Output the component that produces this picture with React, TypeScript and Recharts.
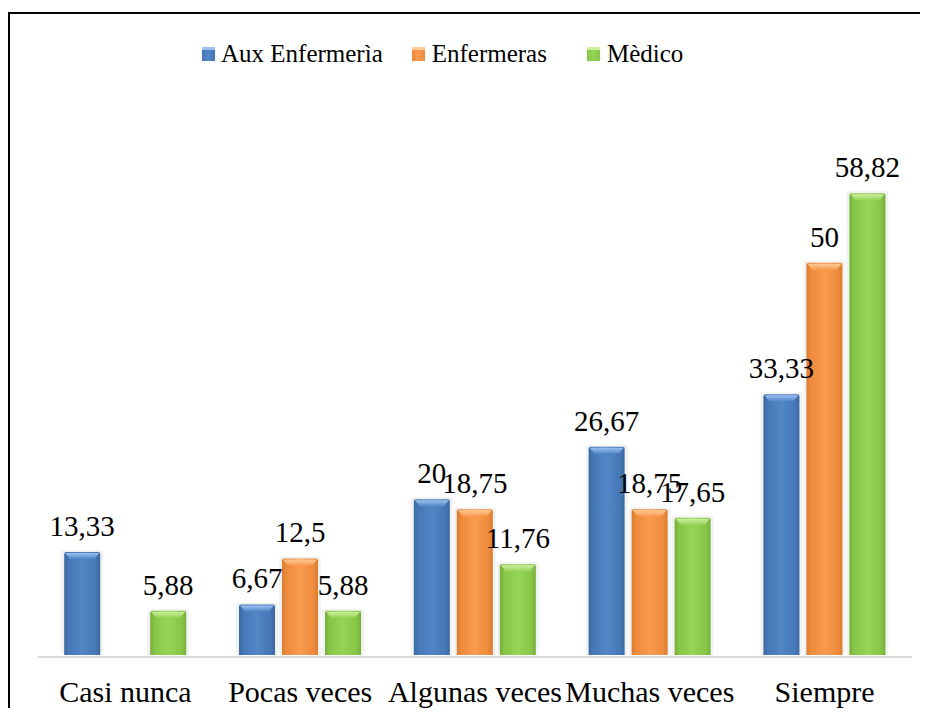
import React from 'react';
import { BarChart, Bar, XAxis, YAxis, Legend, LabelList } from 'recharts';

const categories = ['Casi nunca', 'Pocas veces', 'Algunas veces', 'Muchas veces', 'Siempre'];
const auxEnfermeria = [13.33, 6.67, 20, 26.67, 33.33];
const enfermeras = [null, 12.5, 18.75, 18.75, 50];
const medico = [5.88, 5.88, 11.76, 17.65, 58.82];
const seriesNames = ['Aux Enfermerìa', 'Enfermeras', 'Mèdico'];

const data = categories.map((c, i) => ({
  name: c,
  aux: auxEnfermeria[i],
  enf: enfermeras[i],
  med: medico[i],
}));

const FONT = '"Times New Roman", "Liberation Serif", Tinos, serif';

const palette = [
  { id: 'blue', base: '#5286C6', light: '#9CC2F0', dark: '#4677B6', edge: '#3B67A0' },
  { id: 'orange', base: '#F99B4E', light: '#FDCB98', dark: '#EE8A3C', edge: '#DA7B30' },
  { id: 'green', base: '#96D455', light: '#CDEFA0', dark: '#86C546', edge: '#74AE38' },
];

const makeShape = (p: typeof palette[number]) => (props: any) => {
  const { x, y, width, height } = props;
  if (height == null || height <= 0 || width <= 0) return null;
  const b = Math.min(7, height / 2);
  const r = 2;
  const h = height - 2;
  const d = `M${x},${y + h} L${x},${y + r} Q${x},${y} ${x + r},${y} L${x + width - r},${y} Q${x + width},${y} ${x + width},${y + r} L${x + width},${y + h} Z`;
  return (
    <g>
      <rect x={x - 3} y={y - 2} width={width + 6} height={h + 2} fill="#000" opacity={0.05} rx={3} />
      <path d={d} fill={`url(#grad-${p.id})`} />
      <polygon
        points={`${x + 1},${y + 1} ${x + width - 1},${y + 1} ${x + width - 6},${y + b} ${x + 6},${y + b}`}
        fill={`url(#top-${p.id})`}
      />
    </g>
  );
};

const fmt = (v: any) => (v == null ? '' : String(v).replace('.', ','));

const LegendContent = () => (
  <div style={{ display: 'flex', alignItems: 'center', fontFamily: FONT, fontSize: 25, lineHeight: '28px', color: '#000', whiteSpace: 'nowrap' }}>
    {seriesNames.map((n, i) => (
      <div key={n} style={{ display: 'flex', alignItems: 'center', marginRight: i === 0 ? 29 : 40 }}>
        <div
          style={{
            width: 13,
            height: 14,
            marginRight: i === 0 ? 6 : 7,
            marginTop: 1,
            background: `linear-gradient(to right, ${palette[i].dark}, ${palette[i].base} 50%, ${palette[i].dark})`,
            boxShadow: `inset 0 3px 0 ${palette[i].light}`,
          }}
        />
        <span>{n}</span>
      </div>
    ))}
  </div>
);

export default function App() {
  return (
    <div style={{ position: 'relative', width: 920, height: 700, overflow: 'hidden', background: '#fff' }}>
      <div style={{ position: 'absolute', left: 0, top: 4, width: 920, height: 2, background: '#000' }} />
      <div style={{ position: 'absolute', left: 0, top: 4, width: 2, height: 696, background: '#000' }} />
      <div style={{ position: 'absolute', left: 0, top: 0 }}>
        <BarChart
          width={920}
          height={700}
          data={data}
          margin={{ top: 97, right: 16, bottom: 1, left: 30 }}
          barCategoryGap="15%"
          barGap={7}
        >
          <defs>
            {palette.map((p) => (
              <React.Fragment key={p.id}>
                <linearGradient id={`grad-${p.id}`} x1="0" y1="0" x2="1" y2="0">
                  <stop offset="0%" stopColor={p.edge} />
                  <stop offset="12%" stopColor={p.dark} />
                  <stop offset="50%" stopColor={p.base} />
                  <stop offset="88%" stopColor={p.dark} />
                  <stop offset="100%" stopColor={p.edge} />
                </linearGradient>
                <linearGradient id={`top-${p.id}`} x1="0" y1="0" x2="0" y2="1">
                  <stop offset="0%" stopColor={p.light} />
                  <stop offset="100%" stopColor={p.base} />
                </linearGradient>
              </React.Fragment>
            ))}
          </defs>
          <XAxis
            dataKey="name"
            height={50}
            tickLine={false}
            tickSize={0}
            tickMargin={24}
            axisLine={{ stroke: '#D9D9D9', strokeWidth: 2 }}
            tick={{ fill: '#000', fontSize: 30, fontFamily: FONT }}
            interval={0}
          />
          <YAxis hide domain={[0, 70]} />
          <Legend
            layout="horizontal"
            verticalAlign="middle"
            align="center"
            content={<LegendContent />}
            wrapperStyle={{ top: 31.5, left: 194, width: 'auto' }}
          />
          {(['aux', 'enf', 'med'] as const).map((k, i) => (
            <Bar
              key={k}
              dataKey={k}
              name={seriesNames[i]}
              fill={palette[i].base}
              shape={makeShape(palette[i])}
              isAnimationActive={false}
            >
              <LabelList
                dataKey={k}
                position="top"
                offset={16}
                formatter={fmt}
                fill="#000"
                fontSize={29}
                fontFamily={FONT}
              />
            </Bar>
          ))}
        </BarChart>
      </div>
    </div>
  );
}
